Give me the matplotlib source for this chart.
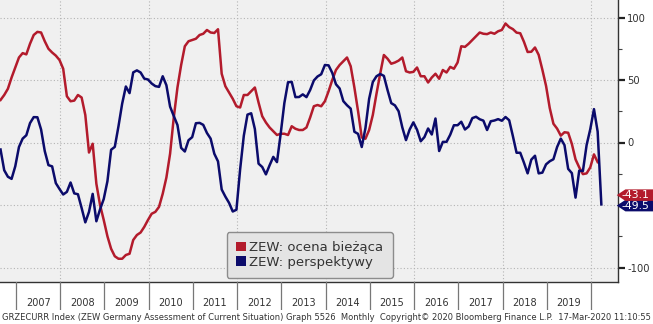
import numpy as np
import pandas as pd
import matplotlib
matplotlib.use("Agg")
import matplotlib.pyplot as plt
from matplotlib.patches import Patch, Polygon

# ZEW Germany, monthly, starting Aug 2006
start = "2006-08"

# current situation (ocena biezaca), Aug 2006 .. Feb 2020
current = [34, 38, 43, 52, 60,
           68, 71.5, 70.5, 79, 86, 88.5, 88, 81, 75, 72, 69.5, 66,
           59, 37, 33, 33.5, 38, 36, 22, -8, -1, -33, -50, -62,
           -75, -85, -91, -93, -93, -90, -89, -78, -74, -72, -67.5, -62,
           -57, -55.5, -51.5, -41, -28, -9, 20, 44, 62, 77, 81, 82,
           83, 86, 87, 90, 88, 87.6, 90.6, 55, 45, 40, 35, 29,
           28, 38, 38, 41, 44, 32, 21, 16, 12, 9, 6, 7,
           7, 6, 13, 11, 10, 10, 12, 20, 29, 30, 29, 33,
           41, 50, 58, 62, 65, 68, 61, 44, 25, 4, 3, 10,
           22, 39, 55, 70, 67, 63, 64, 65.5, 68, 57, 56, 56.5,
           60, 53, 53, 48, 52, 55, 51, 58, 56, 60.5, 59, 64,
           77, 76.5, 79, 82, 85, 88, 87, 86.7, 88, 87, 89, 90,
           95.2, 92.3, 90.7, 87.9, 87.4, 80.6, 72.4, 72.6, 76.0, 70.1, 58.2, 45.3,
           27.6, 15.0, 11.1, 5.5, 8.2, 7.8, -1.1, -13.5, -19.9, -25.3, -24.7, -19.9,
           -9.5, -15.7]

# expectations (perspektywy), Aug 2006 .. Mar 2020
expect = [-5.6, -22.2, -27.4, -29.1, -19.0,
          -3.6, 3.1, 5.8, 15.5, 20.3, 20.2, 10.4, -6.9, -18.1, -19.1, -32.5, -37.2,
          -41.6, -39.5, -32.0, -40.7, -41.4, -52.4, -63.9, -55.5, -41.1, -63.0, -53.5, -45.2,
          -31.0, -5.8, -3.5, 13.0, 31.1, 44.8, 39.5, 56.1, 57.7, 56.0, 51.1, 50.4,
          47.2, 45.1, 44.5, 53.0, 45.8, 28.7, 21.2, 14.0, -4.3, -7.2, 1.8, 4.3,
          15.4, 15.7, 14.1, 7.6, 3.1, -9.0, -15.1, -37.6, -43.3, -48.3, -55.2, -53.8,
          -21.6, 5.4, 22.3, 23.4, 10.8, -16.9, -19.6, -25.5, -18.2, -11.5, -15.7, 6.9,
          31.5, 48.2, 48.5, 36.3, 36.4, 38.5, 36.3, 42.0, 49.6, 52.8, 54.6, 62.0,
          61.7, 55.7, 46.6, 43.2, 33.1, 29.8, 27.1, 8.6, 6.9, -3.6, 11.5, 34.9,
          48.4, 53.0, 54.8, 53.3, 41.9, 31.5, 29.7, 25.0, 12.1, 1.9, 10.4, 16.1,
          10.2, 1.0, 4.3, 11.2, 6.4, 19.2, -6.8, 0.5, 0.5, 6.2, 13.8, 13.8,
          16.6, 10.4, 12.8, 19.5, 20.6, 18.6, 17.5, 10.0, 17.0, 17.6, 18.7, 17.4,
          20.4, 17.8, 5.1, -8.2, -8.2, -16.1, -24.7, -13.7, -10.6, -24.7, -24.1, -17.5,
          -15.0, -13.4, -3.6, 3.1, -2.1, -21.1, -24.5, -44.1, -22.5, -22.8, -2.1, 10.7,
          26.7, 8.7, -49.5]

last_current = -43.1
last_expect = -49.5

years = list(range(2007, 2020))
labels = ["ZEW: ocena bieżąca", "ZEW: perspektywy"]
footer = ("GRZECURR Index (ZEW Germany Assessment of Current Situation) Graph 5526  Monthly  "
          "Copyright\u00a9 2020 Bloomberg Finance L.P.  17-Mar-2020 11:10:55")

RED = "#b31b2c"
NAVY = "#0b0b6b"

def to_years(n):
    d = pd.date_range(start, periods=n, freq="MS")
    return d.year + (d.month - 0.2) / 12.0

t_cur = to_years(len(current))
t_exp = to_years(len(expect))

W, H = 653, 324
fig = plt.figure(figsize=(W / 100, H / 100), dpi=100)
fig.patch.set_facecolor("white")

ax = fig.add_axes([0, 1 - 282 / H, 618 / W, 282 / H])
ax.set_facecolor("#f0f0f0")
ax.set_xlim(2006.638, 2020.61)
ax.set_ylim(-111.6, 114)

# grid
for yv in [-100, -50, 0, 50, 100]:
    ax.axhline(yv, color="#b4b4b4", lw=0.8, ls=(0, (1, 2)), zorder=1)
for xv in range(2008, 2021, 2):
    ax.axvline(xv, color="#b4b4b4", lw=0.8, ls=(0, (1, 2)), zorder=1)

ax.plot(t_cur, current, color=RED, lw=1.8, zorder=3)
ax.plot(t_exp, expect, color=NAVY, lw=1.8, zorder=4)

for s in ["top", "left"]:
    ax.spines[s].set_visible(False)
ax.spines["bottom"].set_color("#333333")
ax.spines["right"].set_color("#333333")
ax.spines["bottom"].set_linewidth(1.0)
ax.spines["right"].set_linewidth(1.0)
ax.set_xticks([])
ax.yaxis.tick_right()
ax.set_yticks([-100, -50, 0, 50, 100])
# the -50 label sits under the value tags, as in the original
ax.set_yticklabels(["-100", "", "0", "50", "100"])
ax.set_yticks([-75, -25, 25, 75], minor=True)
ax.tick_params(axis="y", which="major", length=5, width=1.6, color="#222222",
               labelsize=7.2, labelcolor="#333333", pad=1.5)
ax.tick_params(axis="y", which="minor", length=3, width=0.8, color="#444444")

# value tags on the right axis
def tag(v, fc, txt):
    h = 4.6
    x0, x1, x2 = 0.998, 1.012, 1.07
    tr = ax.get_yaxis_transform()
    poly = Polygon([(x0, v), (x1, v + h), (x2, v + h), (x2, v - h), (x1, v - h)],
                   closed=True, transform=tr, facecolor=fc, edgecolor="none",
                   clip_on=False, zorder=10)
    ax.add_patch(poly)
    ax.text(1.006, v, txt, transform=tr, color="white", fontsize=7.8,
            ha="left", va="center", clip_on=False, zorder=11)

tag(last_expect - 1, NAVY, "%.1f" % last_expect)
tag(last_current + 1, RED, "%.1f" % last_current)

# legend
handles = [Patch(facecolor=RED, edgecolor="none"), Patch(facecolor=NAVY, edgecolor="none")]
leg = ax.legend(handles, labels, loc="lower left", bbox_to_anchor=(0.367, 0.014),
                borderaxespad=0, fontsize=9.5, handlelength=0.75, handleheight=0.75,
                handletextpad=0.25, labelspacing=0.12, borderpad=0.7,
                frameon=True, fancybox=True, facecolor="#e4e4e4", edgecolor="#8c8c8c",
                framealpha=1)
leg.get_frame().set_linewidth(1.0)
leg.set_zorder(12)
for txt in leg.get_texts():
    txt.set_color("#333333")

# year strip below the plot
ax2 = fig.add_axes([0, 1 - 310 / H, 618 / W, 28 / H])
ax2.set_xlim(ax.get_xlim())
ax2.set_ylim(0, 1)
ax2.axis("off")
for yr in years + [2020]:
    ax2.axvline(yr, color="#777777", lw=0.9)
for yr in years:
    ax2.text(yr + 0.5, 0.25, str(yr), ha="center", va="center", fontsize=7, color="#333333")

fig.text(2 / W, 1 - 317 / H, footer, ha="left", va="center", fontsize=6.05, color="#333333")

fig.savefig("out.png", dpi=100, facecolor=fig.get_facecolor())
